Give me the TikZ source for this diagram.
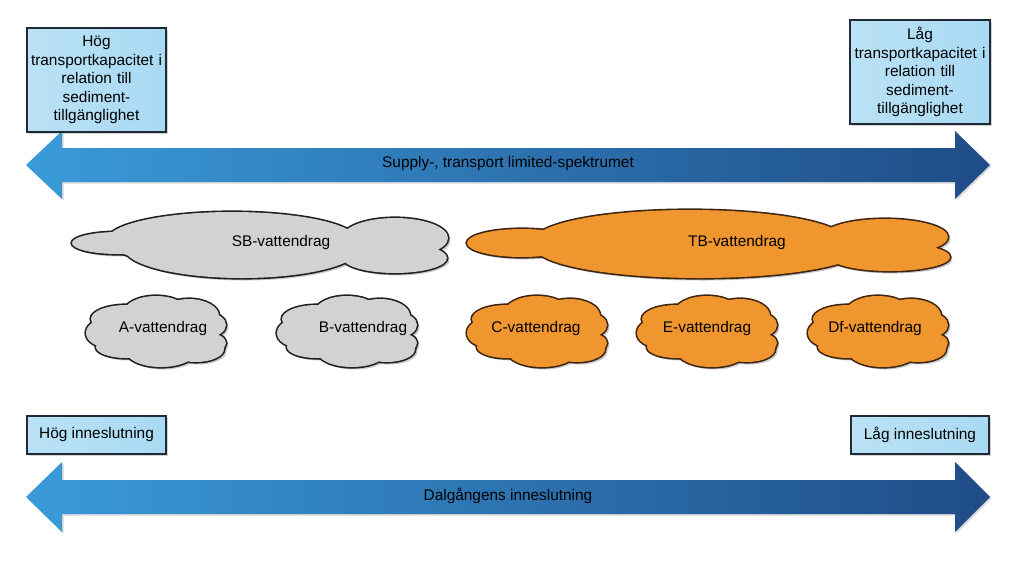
\documentclass[tikz,border=0pt]{standalone}
\usepackage{fontspec}
\setmainfont{Liberation Sans}
\usetikzlibrary{shadows}
\definecolor{boxfill}{HTML}{A9DAF3}
\definecolor{boxline}{HTML}{1E2B36}
\definecolor{arrowL}{HTML}{3A9BD9}
\definecolor{arrowR}{HTML}{1F4C88}
\definecolor{grayfill}{HTML}{D2D2D2}
\definecolor{grayline}{HTML}{202020}
\definecolor{orangefill}{HTML}{F0962E}
\definecolor{orangeline}{HTML}{3F2410}
\definecolor{cloudshadowcol}{HTML}{C8C8C8}
\tikzset{
  every node/.style={font=\fontsize{15.4}{18.6}\selectfont, text=black},
  infobox/.style={draw=boxline, line width=1.1pt, left color=boxfill!80!white, right color=boxfill, align=center, inner sep=2pt, drop shadow={opacity=0.35, shadow xshift=1.5pt, shadow yshift=-1.5pt}},
  bigarrow/.style={left color=arrowL, right color=arrowR, draw=none, drop shadow={opacity=0.3, shadow xshift=1.5pt, shadow yshift=-1.5pt}},
  cloudshadow/.style={fill=cloudshadowcol},
  cloudlabel/.style={inner sep=0pt},
}
% #1,#2 centre, #3 ellipse list, #4 fill colour, #5 line colour
\newcommand\myblob[5]{%
  \begin{scope}[shift={(#1,#2)}]
    \foreach \ex/\ey/\rx/\ry in {#3} {\fill[cloudshadow] (\ex+2.5,\ey+2.5) ellipse [x radius=\rx, y radius=\ry];}
    \foreach \ex/\ey/\rx/\ry in {#3} {\draw[line width=3.2pt, draw=#5] (\ex,\ey) ellipse [x radius=\rx, y radius=\ry];}
    \foreach \ex/\ey/\rx/\ry in {#3} {\fill[#4] (\ex,\ey) ellipse [x radius=\rx, y radius=\ry];}
  \end{scope}}
\newcommand\smallblob[4]{\myblob{#1}{#2}{-30/-12/35/14, 0/-19/32/16, 33/-15/30/17, 52/-6/18/12, 52/12/18/10, 40/18/28/13, 5/20/35/16, -30/16/30/11, -50/2/20/14, 0/0/55/22}{#3}{#4}}
\begin{document}
\begin{tikzpicture}[x=1pt,y=-1pt]
\useasboundingbox (0,0) rectangle (1024,566);
% top arrow
\path[bigarrow] (26,165) -- (62,131) -- (62,148) -- (955,148) -- (955,131) -- (990,165) -- (955,199) -- (955,182) -- (62,182) -- (62,199) -- cycle;
\node (spec) at (508,164) {Supply-, transport limited-spektrumet};
% bottom arrow
\path[bigarrow] (26,497) -- (62,462) -- (62,480) -- (955,480) -- (955,462) -- (990,497) -- (955,532) -- (955,514) -- (62,514) -- (62,532) -- cycle;
\node (dal) at (508,496) {Dalgångens inneslutning};
% boxes
\node[infobox, minimum width=139pt, minimum height=104pt, text width=135pt] (hog) at (96.5,80) {Hög\\transportkapacitet i\\relation till\\sediment-\\tillgänglighet};
\node[infobox, minimum width=140pt, minimum height=104pt, text width=136pt] (lag) at (920,72) {Låg\\transportkapacitet i\\relation till\\sediment-\\tillgänglighet};
\node[infobox, minimum width=139pt, minimum height=38pt] (hogi) at (96.5,435) {Hög inneslutning};
\node[infobox, minimum width=138pt, minimum height=38pt] (lagi) at (920,435) {Låg inneslutning};
% big clouds
\myblob{0}{0}{232/240/125/28, 242/248/118/30, 118/243/46/11, 395/238/53/20, 395/258/52/15}{grayfill}{grayline}
\node[cloudlabel] (sb) at (281,243) {SB-vattendrag};
\myblob{0}{0}{522/243/55/14, 690/240/155/30, 700/247/165/31, 885/237/63/18, 890/257/60/14}{orangefill}{orangeline}
\node[cloudlabel] (tb) at (737,243) {TB-vattendrag};
% small clouds
\smallblob{156}{331}{grayfill}{grayline}
\node[cloudlabel] (a) at (163,329) {A-vattendrag};
\smallblob{347}{331}{grayfill}{grayline}
\node[cloudlabel] (b) at (363,329) {B-vattendrag};
\smallblob{537}{331}{orangefill}{orangeline}
\node[cloudlabel] (c) at (536,329) {C-vattendrag};
\smallblob{707}{331}{orangefill}{orangeline}
\node[cloudlabel] (e) at (707,329) {E-vattendrag};
\smallblob{878}{331}{orangefill}{orangeline}
\node[cloudlabel] (df) at (875,329) {Df-vattendrag};
\end{tikzpicture}
\end{document}
